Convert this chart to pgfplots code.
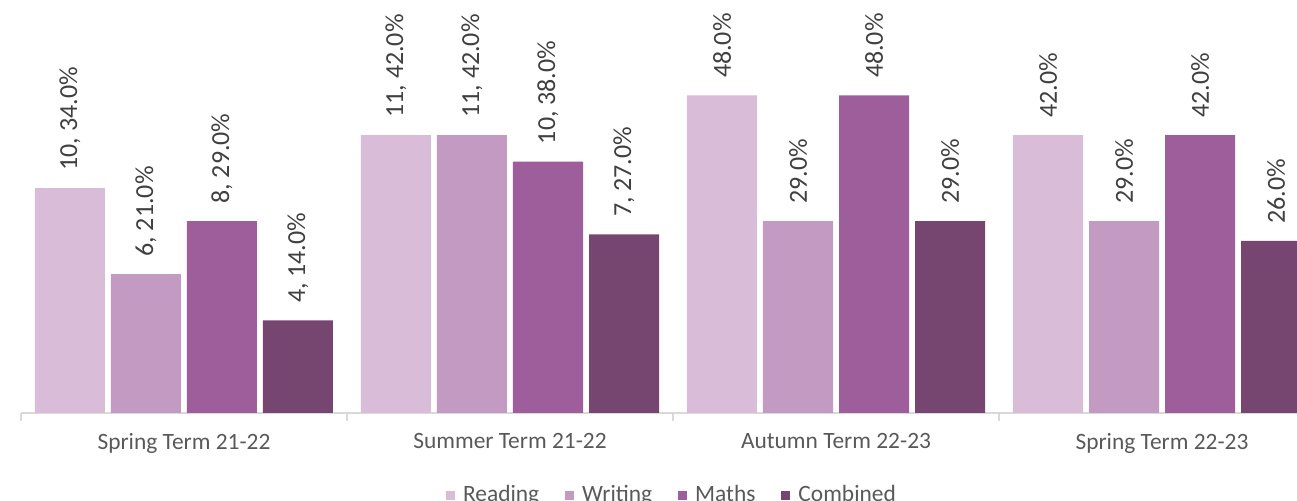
\documentclass[border=0pt]{standalone}
\usepackage{fontspec}
\setmainfont{Carlito}
\usepackage{pgfplots}
\pgfplotsset{compat=1.18}
\definecolor{cR}{HTML}{D9BDD8}
\definecolor{cW}{HTML}{C39BC2}
\definecolor{cM}{HTML}{9E5E9B}
\definecolor{cC}{HTML}{764671}
\definecolor{txt}{HTML}{595959}
\definecolor{lbl}{HTML}{404040}
\definecolor{axl}{HTML}{D9D9D9}
\begin{document}
\begin{tikzpicture}
\useasboundingbox (-10.5pt,-44pt) rectangle (638pt,206.5pt);
\clip (-10.5pt,-44pt) rectangle (638pt,206.5pt);
\begin{axis}[
  scale only axis, width=652pt, height=198.5pt,
  xmin=-0.5, xmax=3.5, ymin=0, ymax=60,
  ybar=3pt, bar width=35pt,
  axis x line=bottom, axis y line=none,
  axis line style={draw=axl, line width=0.8pt, -},
  xtick={0,1,2,3},
  xticklabels={Spring Term 21-22, Summer Term 21-22, Autumn Term 22-23, Spring Term 22-23},
  major tick length=0pt,
  minor xtick={-0.5,0.5,1.5,2.5,3.5},
  minor tick length=4pt,
  xtick align=outside,
  minor tick style={draw=axl, line width=0.8pt},
  x tick label style={font=\fontsize{11.7}{13}\selectfont, text=txt, yshift=-6.5pt},
  point meta=explicit symbolic,
  nodes near coords,
  every node near coord/.append style={rotate=90, anchor=west, inner xsep=8.5pt,
     font=\fontsize{13}{15}\selectfont, text=lbl},
  legend style={at={(0.5,0)}, anchor=north, yshift=-32pt, draw=none,
     font=\fontsize{11.7}{13}\selectfont, text=txt,
     /tikz/every even column/.append style={column sep=11pt}},
  legend columns=-1,
  legend image code/.code={\fill[#1] (0pt,-2.25pt) rectangle (4.5pt,2.25pt); \path (6.5pt,0pt);},
]
\addplot[fill=cR, draw=none] coordinates {(0,34) [{10, 34.0\%}] (1,42) [{11, 42.0\%}] (2,48) [{48.0\%}] (3,42) [{42.0\%}]};
\addplot[fill=cW, draw=none] coordinates {(0,21) [{6, 21.0\%}] (1,42) [{11, 42.0\%}] (2,29) [{29.0\%}] (3,29) [{29.0\%}]};
\addplot[fill=cM, draw=none] coordinates {(0,29) [{8, 29.0\%}] (1,38) [{10, 38.0\%}] (2,48) [{48.0\%}] (3,42) [{42.0\%}]};
\addplot[fill=cC, draw=none] coordinates {(0,14) [{4, 14.0\%}] (1,27) [{7, 27.0\%}] (2,29) [{29.0\%}] (3,26) [{26.0\%}]};
\legend{Reading, Writing, Maths, Combined}
\end{axis}
\end{tikzpicture}
\end{document}
